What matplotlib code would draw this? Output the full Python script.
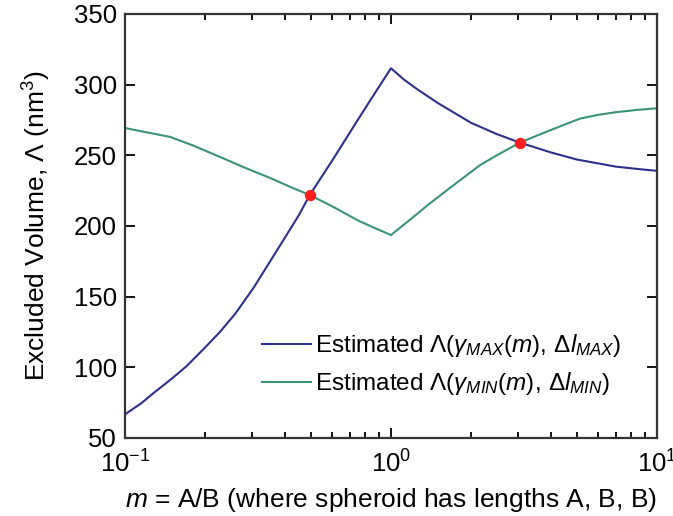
import matplotlib
matplotlib.use("Agg")

import matplotlib.pyplot as plt

# Values
m_left = [0.1, 0.115, 0.1277, 0.15, 0.1706, 0.2, 0.2277, 0.26, 0.3035, 0.35, 0.4, 0.45, 0.495, 0.6, 0.75, 0.87, 1.0]
blue_left = [66.7, 74.5, 81.6, 92.0, 100.9, 114.0, 125.1, 138.0, 155.9, 174.5, 192.0, 207.5, 221.9, 246.0, 275.0, 294.0, 311.6]

m_green_left = [0.1, 0.125, 0.148, 0.18, 0.228, 0.28, 0.351, 0.42, 0.495, 0.6, 0.75, 0.87, 1.0]
green_left = [269.3, 265.7, 263.0, 257.0, 248.8, 241.5, 234.0, 227.5, 221.9, 214.0, 204.0, 198.5, 193.6]

m_blue_right = [1.0, 1.12, 1.25, 1.5, 1.75, 2.0, 2.5, 3.05, 4.0, 5.0, 6.0, 7.0, 8.5, 10.0]
blue_right = [311.6, 303.5, 297.0, 287.0, 279.5, 273.0, 265.0, 259.0, 252.0, 247.0, 244.3, 242.0, 240.3, 239.0]

m_green_right = [1.0, 1.2, 1.4, 1.75, 2.16, 2.5, 3.05, 4.0, 5.14, 6.0, 7.0, 8.5, 10.0]
green_right = [193.6, 205.6, 216.0, 230.0, 243.0, 250.0, 259.0, 268.0, 276.0, 278.6, 280.5, 282.2, 283.3]

cross_m = [0.495, 3.05]
cross_v = [221.9, 259.0]

plt.rcParams["font.family"] = ["Liberation Sans", "DejaVu Sans"]
plt.rcParams["mathtext.fontset"] = "custom"
plt.rcParams["mathtext.rm"] = "Liberation Sans"
plt.rcParams["mathtext.it"] = "Liberation Sans:italic"
plt.rcParams["mathtext.bf"] = "Liberation Sans:bold"
plt.rcParams["axes.unicode_minus"] = False

blue = "#2f2f8c"
green = "#3a9474"

fig = plt.figure(figsize=(6.73, 5.16), dpi=100)
ax = fig.add_axes([0.1857, 0.1512, 0.7905, 0.8217])

ax.plot(m_left + m_blue_right[1:], blue_left + blue_right[1:], color=blue, lw=1.5,
        label=r"Estimated $\Lambda(\gamma_{MAX}(m),\,\Delta l_{MAX})$")
ax.plot(m_green_left + m_green_right[1:], green_left + green_right[1:], color=green, lw=1.5,
        label=r"Estimated $\Lambda(\gamma_{MIN}(m),\,\Delta l_{MIN})$")
ax.plot(cross_m, cross_v, "o", color="#ff1f1f", ms=7.2, zorder=5)

ax.set_xscale("log")
ax.set_xlim(0.1, 10)
ax.set_ylim(50, 350)
ax.set_yticks([50, 100, 150, 200, 250, 300, 350])

ax.tick_params(which="both", direction="in", top=True, right=True, labelsize=18.5, width=1.3)
ax.tick_params(which="major", length=7)
ax.tick_params(which="minor", length=4)
ax.tick_params(axis="y", pad=6)
ax.tick_params(axis="x", pad=9)
for s in ax.spines.values():
    s.set_linewidth(1.6)
    s.set_color("#333333")

ax.set_xlabel(r"$m$ = A/B (where spheroid has lengths A, B, B)", fontsize=19, labelpad=6)
ax.set_ylabel(r"Excluded Volume, $\Lambda$ (nm$^3$)", fontsize=19, labelpad=15)

ax.legend(loc="lower right", bbox_to_anchor=(0.975, 0.045), frameon=False, fontsize=17.5,
          handlelength=2.0, handletextpad=0.2, labelspacing=0.45)

plt.savefig("out.png", dpi=100)
